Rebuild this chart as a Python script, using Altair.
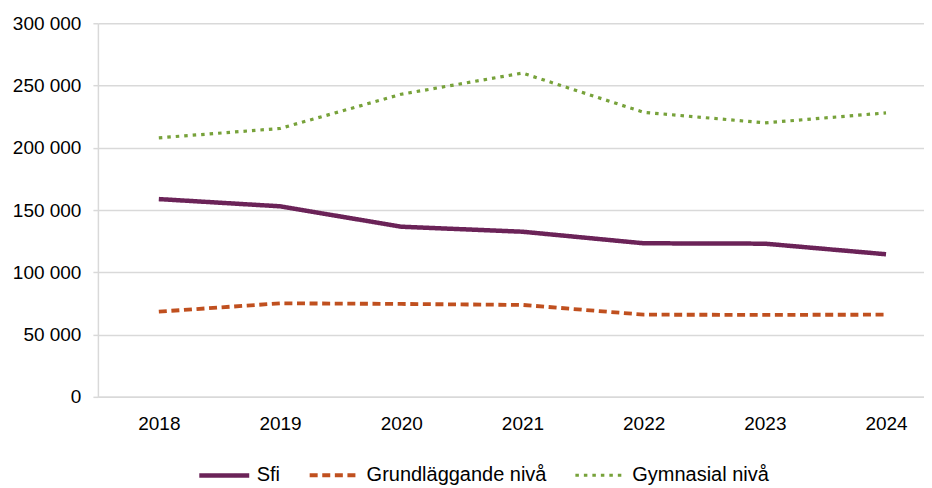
import altair as alt
import pandas as pd

years = ["2018", "2019", "2020", "2021", "2022", "2023", "2024"]
sfi = [158800, 153000, 136600, 132600, 123300, 123000, 114500]
grund = [68400, 75100, 74600, 73800, 66000, 65800, 66000]
gymn = [208000, 215500, 243000, 260000, 228500, 220000, 228000]

series = ["Sfi", "Grundläggande nivå", "Gymnasial nivå"]
colors = ["#6B2358", "#C0501F", "#77A23A"]
dashes = [[1, 0], [8, 4.6], [3.5, 5]]
widths = [4.5, 3.2, 3.8]

rows = []
for name, vals in zip(series, [sfi, grund, gymn]):
    for y, v in zip(years, vals):
        rows.append({"year": y, "value": v, "serie": name})
df = pd.DataFrame(rows)

FONT = "Liberation Sans, Arial, sans-serif"


def legend():
    return alt.Legend(
        title=None, orient="none", direction="horizontal",
        legendX=99, legendY=425,
        symbolType="stroke", symbolSize=2500,
        labelFontSize=20, labelFont=FONT, labelColor="#000", labelLimit=0,
        labelOffset=5, columnPadding=21,
    )


chart = (
    alt.Chart(df)
    .mark_line(interpolate="linear", strokeCap="butt", strokeJoin="round")
    .encode(
        x=alt.X(
            "year:N",
            sort=years,
            scale=alt.Scale(type="point", padding=0.408, align=0.616),
            axis=alt.Axis(
                title=None, labelAngle=0, ticks=False, grid=False,
                domainColor="#D9D9D9", domainWidth=1.5,
                labelFontSize=19, labelFont=FONT, labelColor="#000",
                labelPadding=18,
            ),
        ),
        y=alt.Y(
            "value:Q",
            scale=alt.Scale(domain=[0, 300000], nice=False),
            axis=alt.Axis(
                title=None, values=[0, 50000, 100000, 150000, 200000, 250000, 300000],
                labelExpr="replace(format(datum.value, ','), ',', ' ')",
                gridColor="#D9D9D9", gridWidth=1.5,
                domainColor="#D9D9D9", domainWidth=1.5,
                tickColor="#D9D9D9", tickSize=5, tickWidth=1.5,
                labelFontSize=19, labelFont=FONT, labelColor="#000",
                labelPadding=12,
            ),
        ),
        color=alt.Color("serie:N", sort=series,
                        scale=alt.Scale(domain=series, range=colors), legend=legend()),
        strokeDash=alt.StrokeDash("serie:N", sort=series,
                                  scale=alt.Scale(domain=series, range=dashes), legend=legend()),
        strokeWidth=alt.StrokeWidth("serie:N", sort=series,
                                    scale=alt.Scale(domain=series, range=widths), legend=legend()),
    )
    .properties(width=827, height=374, padding={"left": 4, "top": 6, "right": 0, "bottom": 0})
    .configure_view(stroke=None)
)

chart.save("out.html", embed_options={"renderer": "svg", "actions": False})
